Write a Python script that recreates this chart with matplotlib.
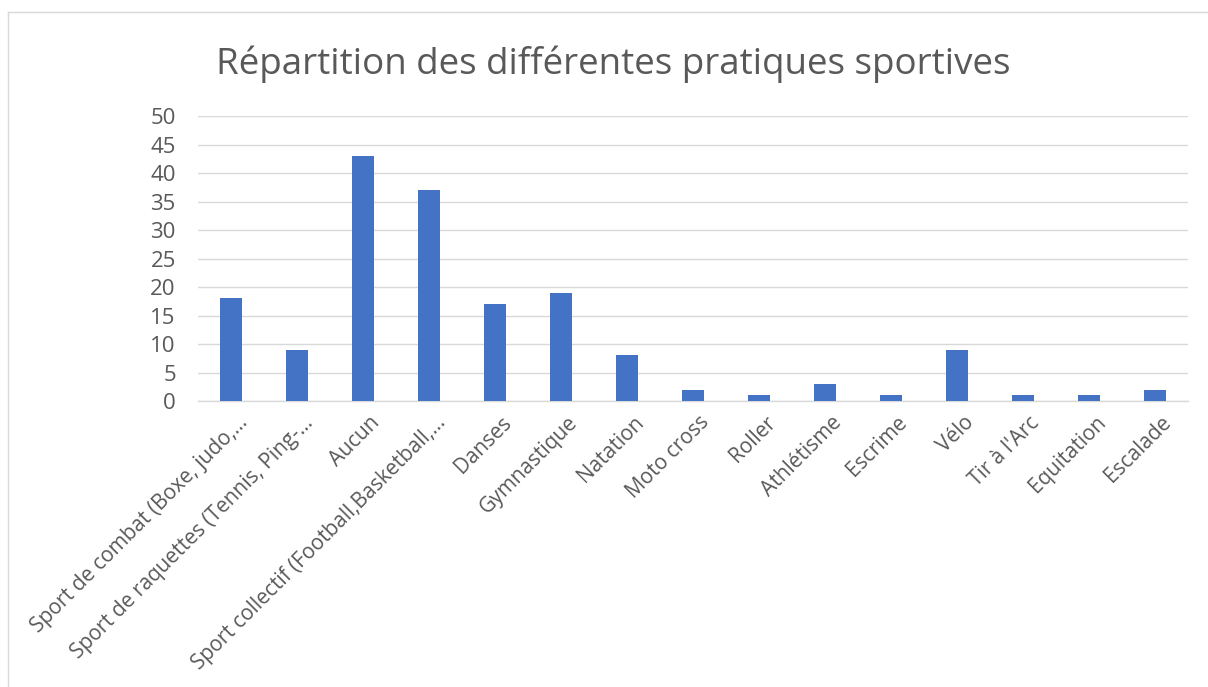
import matplotlib.pyplot as plt
import matplotlib.transforms as mtransforms
import numpy as np
from matplotlib.lines import Line2D

plt.rcParams['font.family'] = ['Open Sans', 'DejaVu Sans']

categories = ["Sport de combat (Boxe, judo,…", "Sport de raquettes (Tennis, Ping-…",
              "Aucun", "Sport collectif (Football,Basketball,…", "Danses",
              "Gymnastique", "Natation", "Moto cross", "Roller", "Athlétisme",
              "Escrime", "Vélo", "Tir à l'Arc", "Equitation", "Escalade"]
valeurs = [18, 9, 43, 37, 17, 19, 8, 2, 1, 3, 1, 9, 1, 1, 2]
yticks = [0, 5, 10, 15, 20, 25, 30, 35, 40, 45, 50]

gris = '#595959'
fig = plt.figure(figsize=(12.08, 6.87), dpi=100)
ax = fig.add_axes([0.1639, 0.4163, 0.8195, 0.4148])

x = np.arange(len(categories))
ax.bar(x, valeurs, width=0.33, color='#4472c4', zorder=3)

ax.set_xlim(-0.5, len(categories) - 0.5)
ax.set_ylim(0, 50)
ax.set_yticks(yticks)
ax.grid(axis='y', color='#d9d9d9', linewidth=1, zorder=0)
for s in ['top', 'right', 'left']:
    ax.spines[s].set_visible(False)
ax.spines['bottom'].set_color('#d9d9d9')
ax.spines['bottom'].set_linewidth(1)
ax.tick_params(length=0, labelcolor=gris, labelsize=15)
ax.tick_params(axis='y', pad=16, labelsize=16)
ax.set_xticks(x)
ax.set_xticklabels(categories, rotation=45, ha='right', rotation_mode='anchor')
ax.tick_params(axis='x', pad=8)
decal = mtransforms.ScaledTranslation(6 / 100, 0, fig.dpi_scale_trans)
for lab in ax.get_xticklabels():
    lab.set_transform(lab.get_transform() + decal)

fig.text(0.5075, 0.907, "Répartition des différentes pratiques sportives",
         ha='center', va='center', fontsize=26.5, color=gris)

# cadre du graphique (bords gauche et haut visibles)
fig.add_artist(Line2D([0.007, 0.007], [0, 0.983], transform=fig.transFigure,
                      color='#d9d9d9', linewidth=1))
fig.add_artist(Line2D([0.007, 1], [0.983, 0.983], transform=fig.transFigure,
                      color='#d9d9d9', linewidth=1))

fig.savefig('out.png', dpi=100)
